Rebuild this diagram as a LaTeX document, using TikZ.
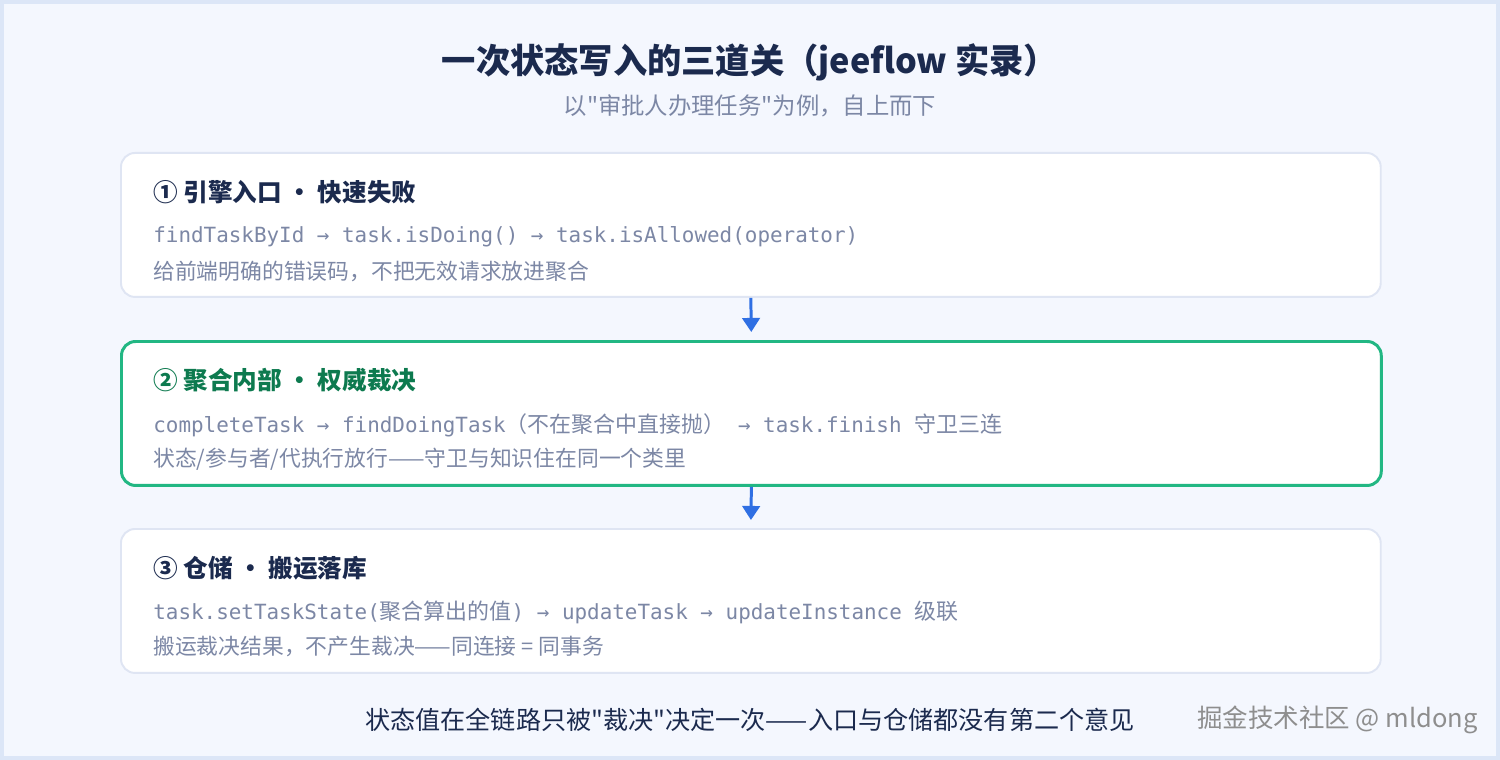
\documentclass[tikz,border=0pt]{standalone}
\usepackage{fontspec}
\setmainfont{Noto Sans CJK SC}
\newfontfamily\cjkfont{Noto Sans CJK SC}
\newfontfamily\codefont{DejaVu Sans Mono}
\usetikzlibrary{arrows.meta}

\definecolor{pagebg}{HTML}{F4F7FE}
\definecolor{pageedge}{HTML}{DCE6F7}
\definecolor{navy}{HTML}{1B2A4E}
\definecolor{muted}{HTML}{7C87A5}
\definecolor{boxline}{HTML}{DFE5F3}
\definecolor{guardgreen}{HTML}{22B783}
\definecolor{headgreen}{HTML}{0D7A4F}
\definecolor{flowblue}{HTML}{2F6FE3}
\definecolor{markgray}{HTML}{8E8E8E}

\newcommand{\zh}[1]{{\fontsize{12.5}{14}\selectfont\cjkfont #1}}

\tikzset{
  stage/.style={draw=boxline, line width=1.1pt, fill=white, rounded corners=8pt,
    minimum width=25.2cm, minimum height=2.88cm, inner sep=0pt},
  keystage/.style={stage, draw=guardgreen, line width=1.7pt},
  heading/.style={anchor=west, inner sep=0pt, text=navy,
    font=\fontsize{14}{16}\selectfont\cjkfont\bfseries},
  codeline/.style={anchor=west, inner sep=0pt, text=muted,
    font=\fontsize{11.9}{14}\selectfont\codefont},
  noteline/.style={anchor=west, inner sep=0pt, text=muted,
    font=\fontsize{12.4}{14}\selectfont\cjkfont},
  flow/.style={draw=flowblue, line width=1.7pt, -{Triangle[width=10pt,length=8pt]},
    shorten >=0.16cm}
}

\begin{document}
\begin{tikzpicture}[x=0.02cm, y=-0.02cm]
    % page frame
    \fill[pageedge] (0,0) rectangle (1500,760);
    \fill[pagebg] (4,4) rectangle (1496,756);
    \useasboundingbox (0,0) rectangle (1500,760);

    % title
    \node[text=navy, font=\fontsize{19.5}{22}\selectfont\cjkfont\bfseries] (title) at (750,62) {一次状态写入的三道关（jeeflow 实录）};
    \node[text=muted, font=\fontsize{13.3}{15}\selectfont\cjkfont] (subtitle) at (750,106) {以"审批人办理任务"为例，自上而下};

    % three stages
    \node[stage, anchor=north west] (entry) at (120,152) {};
    \node[keystage, anchor=north west] (aggregate) at (120,340) {};
    \node[stage, anchor=north west] (repo) at (120,528) {};

    \node[heading] (entryhead) at (153,192) {① 引擎入口 • 快速失败};
    \node[codeline] (entrycode) at (153,237) {findTaskById → task.isDoing() → task.isAllowed(operator)};
    \node[noteline] (entrynote) at (153,271) {给前端明确的错误码，不把无效请求放进聚合};

    \node[heading, text=headgreen] (aggregatehead) at (153,380) {② 聚合内部 • 权威裁决};
    \node[codeline] (aggregatecode) at (153,425) {completeTask → findDoingTask\zh{（不在聚合中直接抛）} → task.finish \zh{守卫三连}};
    \node[noteline] (aggregatenote) at (153,459) {状态/参与者/代执行放行——守卫与知识住在同一个类里};

    \node[heading] (repohead) at (153,568) {③ 仓储 • 搬运落库};
    \node[codeline] (repocode) at (153,612) {task.setTaskState(\zh{聚合算出的值}) → updateTask → updateInstance \zh{级联}};
    \node[noteline] (reponote) at (153,646) {搬运裁决结果，不产生裁决——同连接 = 同事务};

    % flow between stages
    \draw[flow] (entry.south) -- (aggregate.north);
    \draw[flow] (aggregate.south) -- (repo.north);

    % footer
    \node[text=navy, font=\fontsize{14.3}{16}\selectfont\cjkfont] (footer) at (750,720) {状态值在全链路只被"裁决"决定一次——入口与仓储都没有第二个意见};
    \node[anchor=east, inner sep=0pt, text=markgray, font=\fontsize{14.5}{16}\selectfont\cjkfont] (mark) at (1478,720) {掘金技术社区 @ mldong};
\end{tikzpicture}
\end{document}
